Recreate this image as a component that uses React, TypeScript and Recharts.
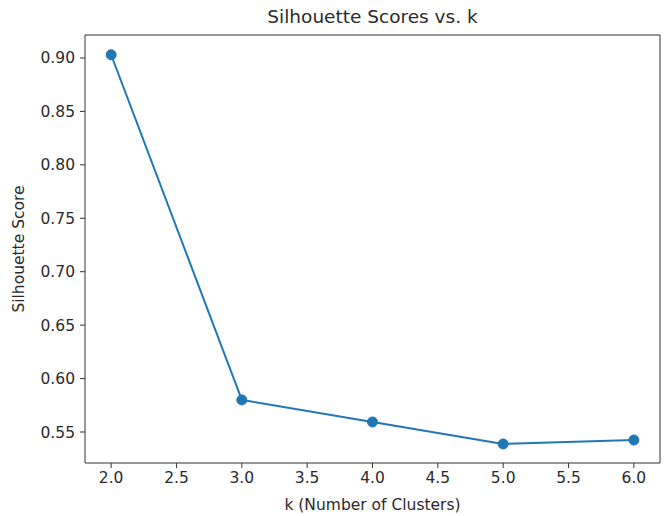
import React from 'react';
import { LineChart, Line, XAxis, YAxis, ReferenceLine } from 'recharts';

// k values and their silhouette scores
const kValues = [2, 3, 4, 5, 6];
const scores = [0.903, 0.58, 0.5594, 0.5388, 0.5425];

const xTicks = [2.0, 2.5, 3.0, 3.5, 4.0, 4.5, 5.0, 5.5, 6.0];
const yTicks = [0.55, 0.6, 0.65, 0.7, 0.75, 0.8, 0.85, 0.9];

const X_DOMAIN: [number, number] = [1.8, 6.2];
const Y_DOMAIN: [number, number] = [0.521, 0.9215];

const data = kValues.map((k, i) => ({ k, score: scores[i] }));

const FONT = '"DejaVu Sans", sans-serif';
const AXIS = '#333333';
const TEXT = '#2a2a2a';
const BLUE = '#1f77b4';

export default function App() {
  return (
    <div style={{ position: 'absolute', left: 0, top: 0, width: 666, height: 516, background: '#fff', fontFamily: FONT }}>
      <div
        style={{
          position: 'absolute',
          top: 6,
          left: 85,
          width: 575,
          textAlign: 'center',
          fontSize: 18.5,
          color: TEXT,
        }}
      >
        Silhouette Scores vs. k
      </div>
      <LineChart width={666} height={516} data={data} margin={{ top: 35, right: 6, bottom: 4, left: 28 }}>
        <XAxis
          dataKey="k"
          type="number"
          domain={X_DOMAIN}
          ticks={xTicks}
          allowDataOverflow
          tickFormatter={(v) => v.toFixed(1)}
          height={49}
          stroke={AXIS}
          tick={{ fill: TEXT, fontSize: 15.5, fontFamily: FONT }}
          tickSize={5}
          tickMargin={4}
          label={{ value: 'k (Number of Clusters)', position: 'insideBottom', offset: 2, fill: TEXT, fontSize: 15.5, fontFamily: FONT }}
        />
        <YAxis
          type="number"
          domain={Y_DOMAIN}
          ticks={yTicks}
          allowDataOverflow
          tickFormatter={(v) => v.toFixed(2)}
          width={57}
          stroke={AXIS}
          tick={{ fill: TEXT, fontSize: 15.5, fontFamily: FONT }}
          tickSize={5}
          tickMargin={5}
          label={{ value: 'Silhouette Score', angle: -90, position: 'insideLeft', offset: -10, style: { textAnchor: 'middle' }, fill: TEXT, fontSize: 15.5, fontFamily: FONT }}
        />
        {/* top and right spines */}
        <ReferenceLine y={Y_DOMAIN[1]} stroke={AXIS} strokeWidth={1} ifOverflow="visible" />
        <ReferenceLine x={X_DOMAIN[1]} stroke={AXIS} strokeWidth={1} ifOverflow="visible" />
        <Line
          type="linear"
          dataKey="score"
          stroke={BLUE}
          strokeWidth={2}
          dot={{ r: 5, fill: BLUE, stroke: BLUE, strokeWidth: 1 }}
          isAnimationActive={false}
        />
      </LineChart>
    </div>
  );
}
